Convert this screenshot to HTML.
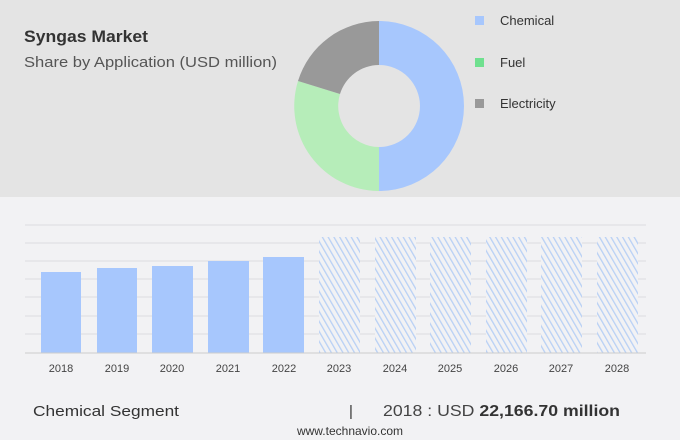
<!DOCTYPE html><html><head><style>body{margin:0}svg text{font-family:"Liberation Sans",sans-serif}</style></head><body>
<svg width="680" height="440" xmlns="http://www.w3.org/2000/svg">
<defs><pattern id="h" width="5" height="5" patternUnits="userSpaceOnUse" patternTransform="rotate(-30)"><rect width="5" height="5" fill="#f2f2f4"/><rect width="1.3" height="5" fill="#b8d0f5"/></pattern></defs>
<rect width="680" height="440" fill="#f2f2f4"/>
<rect width="680" height="197" fill="#e4e4e4"/>
<text x="24" y="42" font-size="17" font-weight="bold" fill="#333" textLength="124" lengthAdjust="spacingAndGlyphs">Syngas Market</text>
<text x="24" y="67" font-size="15" fill="#555" textLength="253" lengthAdjust="spacingAndGlyphs">Share by Application (USD million)</text>
<g transform="translate(379,106)">
<path d="M0,-85 A85,85 0 0 1 0,85 L0,41 A41,41 0 0 0 0,-41Z" fill="#a7c7fd"/>
<path d="M0,85 A85,85 0 0 1 -81,-25 L-39,-12 A41,41 0 0 0 0,41Z" fill="#b6edb9"/>
<path d="M-81,-25 A85,85 0 0 1 0,-85 L0,-41 A41,41 0 0 0 -39,-12Z" fill="#999"/>
</g>
<rect x="475" y="16" width="9" height="9" fill="#a7c7fd"/><text x="500" y="25" font-size="13" fill="#333">Chemical</text>
<rect x="475" y="58" width="9" height="9" fill="#6fe08f"/><text x="500" y="67" font-size="13" fill="#333">Fuel</text>
<rect x="475" y="99" width="9" height="9" fill="#999"/><text x="500" y="108" font-size="13" fill="#333">Electricity</text>
<g stroke="#dcdce0" stroke-width="1">
<line x1="25" x2="646" y1="225" y2="225"/><line x1="25" x2="646" y1="243" y2="243"/><line x1="25" x2="646" y1="261" y2="261"/><line x1="25" x2="646" y1="279" y2="279"/><line x1="25" x2="646" y1="297" y2="297"/><line x1="25" x2="646" y1="316" y2="316"/><line x1="25" x2="646" y1="334" y2="334"/>
</g>
<g fill="#a7c7fd">
<rect x="41" y="272" width="40" height="81"/><rect x="97" y="268" width="40" height="85"/><rect x="152" y="266" width="41" height="87"/><rect x="208" y="261" width="41" height="92"/><rect x="263" y="257" width="41" height="96"/>
</g>
<g fill="url(#h)">
<rect x="319" y="237" width="41" height="116"/><rect x="375" y="237" width="41" height="116"/><rect x="430" y="237" width="41" height="116"/><rect x="486" y="237" width="41" height="116"/><rect x="541" y="237" width="41" height="116"/><rect x="597" y="237" width="41" height="116"/>
</g>
<line x1="25" x2="646" y1="353" y2="353" stroke="#ccc"/>
<g font-size="11" fill="#444" text-anchor="middle">
<text x="61" y="372">2018</text><text x="117" y="372">2019</text><text x="172" y="372">2020</text><text x="228" y="372">2021</text><text x="284" y="372">2022</text><text x="339" y="372">2023</text><text x="395" y="372">2024</text><text x="450" y="372">2025</text><text x="506" y="372">2026</text><text x="561" y="372">2027</text><text x="617" y="372">2028</text>
</g>
<text x="33" y="416" font-size="15" fill="#333" textLength="146" lengthAdjust="spacingAndGlyphs">Chemical Segment</text>
<text x="349" y="416" font-size="15" fill="#333">|</text>
<text x="383" y="416" font-size="16" fill="#444" textLength="237" lengthAdjust="spacingAndGlyphs">2018 : USD <tspan font-weight="bold" fill="#333">22,166.70 million</tspan></text>
<text x="350" y="435" font-size="12" fill="#333" text-anchor="middle">www.technavio.com</text>
</svg></body></html>
